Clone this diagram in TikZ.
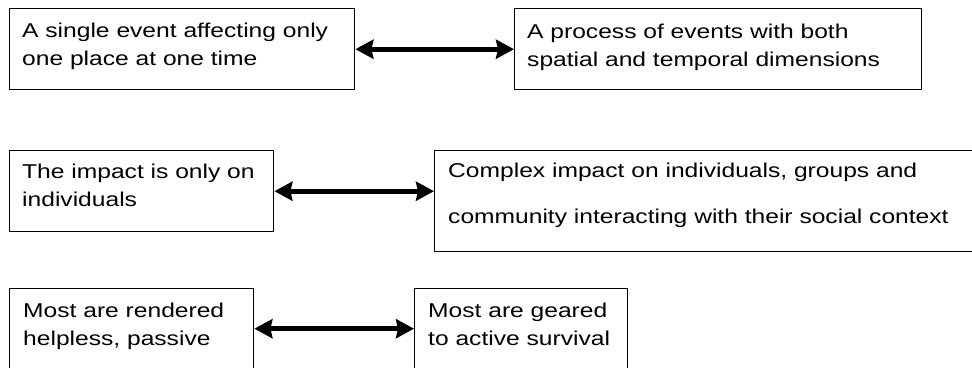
\documentclass[tikz,border=0pt]{standalone}
\usepackage{fontspec}
\setmainfont{Liberation Sans}[FakeStretch=1.23]
\usetikzlibrary{arrows.meta}
\begin{document}
\begin{tikzpicture}[x=1pt,y=-1pt,
  box/.style={draw, line width=1.4pt, anchor=north west, inner sep=0pt},
  % text nodes are placed by the baseline of their last line
  txt/.style={anchor=base west, align=left, inner sep=0pt,
              font=\fontsize{20}{28}\selectfont},
  widetxt/.style={txt, font=\fontsize{20}{46}\selectfont},
  tip/.tip={Stealth[length=18pt,width=19pt,inset=2pt]},
  link/.style={line width=5pt, tip-tip}]
\useasboundingbox (0,0) rectangle (972,367);
\clip (0,0) rectangle (972,367);

% first pair
\node[box, minimum width=345pt, minimum height=81pt] (b1) at (9,8) {};
\node[box, minimum width=407pt, minimum height=81pt] (b2) at (514,8) {};
\node[txt] (t1) at (22,65) {A single event affecting only\\one place at one time};
\node[txt] (t2) at (527,66) {A process of events with both\\spatial and temporal dimensions};
\draw[link] (b1.east) -- (b1.east -| b2.west);

% second pair
\node[box, minimum width=264pt, minimum height=81pt] (b3) at (9,150) {};
\node[box, minimum width=560pt, minimum height=101pt] (b4) at (434,150) {};
\node[txt] (t3) at (22,206) {The impact is only on\\individuals};
\node[widetxt] (t4) at (448,223) {Complex impact on individuals, groups and\\community interacting with their social context};
\draw[link] (b3.east) -- (b3.east -| b4.west);

% third pair
\node[box, minimum width=244pt, minimum height=80pt] (b5) at (9,288) {};
\node[box, minimum width=213pt, minimum height=80pt] (b6) at (414,288) {};
\node[txt] (t5) at (23,345) {Most are rendered\\helpless, passive};
\node[txt] (t6) at (428,345) {Most are geared\\to active survival};
\draw[link] (b5.east) -- (b5.east -| b6.west);
\end{tikzpicture}
\end{document}
